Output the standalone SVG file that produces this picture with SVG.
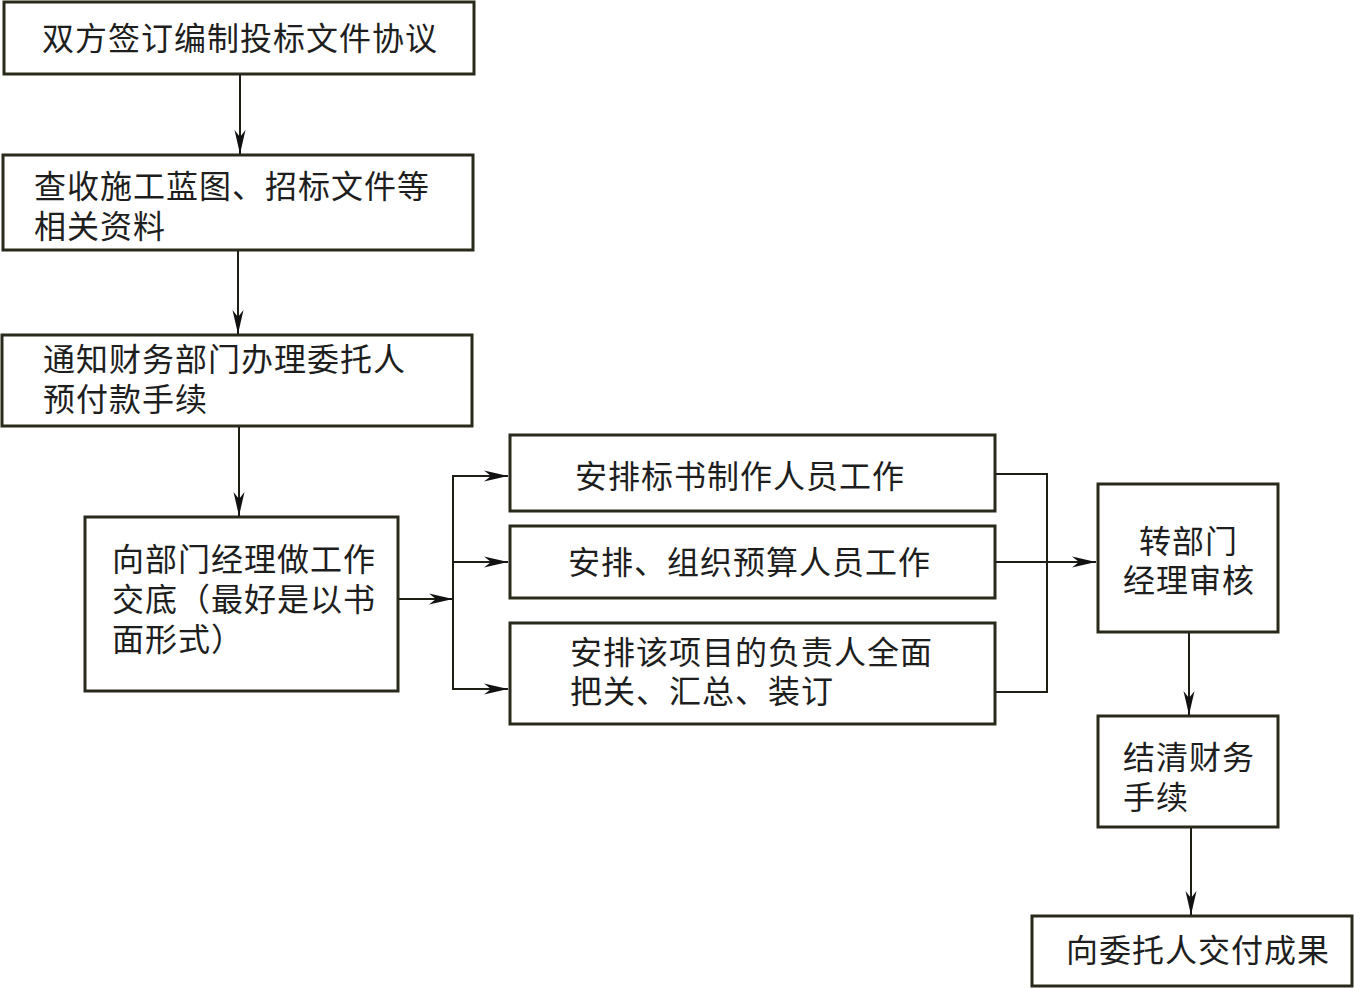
<svg xmlns="http://www.w3.org/2000/svg" width="1354" height="988" viewBox="0 0 1354 988">
<style>
.box{fill:#fff;stroke:#2a2a1c;stroke-width:3}
.ln{fill:none;stroke:#1e1e14;stroke-width:2}
text{font-family:"Noto Sans CJK SC","Noto Sans",sans-serif;font-size:32px;fill:#1e1e1e;letter-spacing:1px}
</style>
<defs>
<marker id="ah" markerUnits="userSpaceOnUse" markerWidth="26" markerHeight="12" refX="24" refY="6" orient="auto">
<path d="M0,0.5 L24,6 L0,11.5 L7,6 z" fill="#111"/>
</marker>
</defs>
<rect width="1354" height="988" fill="#fff"/>
<g id="n1"><rect class="box" x="4" y="2" width="470" height="72"/><text x="42" y="50">双方签订编制投标文件协议</text></g>
<g id="n2"><rect class="box" x="3" y="155" width="470" height="95"/><text x="34" y="198">查收施工蓝图、招标文件等<tspan x="34" dy="40">相关资料</tspan></text></g>
<g id="n3"><rect class="box" x="2" y="335" width="470" height="91"/><text x="43" y="371">通知财务部门办理委托人<tspan x="43" dy="40">预付款手续</tspan></text></g>
<g id="n4"><rect class="box" x="85" y="517" width="313" height="174"/><text x="112" y="571">向部门经理做工作<tspan x="112" dy="40">交底（最好是以书</tspan><tspan x="112" dy="40">面形式）</tspan></text></g>
<g id="n5"><rect class="box" x="510" y="435" width="485" height="76"/><text x="575" y="488">安排标书制作人员工作</text></g>
<g id="n6"><rect class="box" x="510" y="526" width="485" height="72"/><text x="568" y="574">安排、组织预算人员工作</text></g>
<g id="n7"><rect class="box" x="510" y="623" width="485" height="101"/><text x="570" y="664">安排该项目的负责人全面<tspan x="570" dy="39">把关、汇总、装订</tspan></text></g>
<g id="n8"><rect class="box" x="1098" y="484" width="180" height="148"/><text x="1139" y="553">转部门<tspan x="1123" dy="39">经理审核</tspan></text></g>
<g id="n9"><rect class="box" x="1098" y="716" width="180" height="111"/><text x="1123" y="769">结清财务<tspan x="1123" dy="40">手续</tspan></text></g>
<g id="n10"><rect class="box" x="1032" y="916" width="320" height="70"/><text x="1066" y="962">向委托人交付成果</text></g>
<g id="connectors">
<line class="ln" x1="240" y1="75" x2="240" y2="154" marker-end="url(#ah)"/>
<line class="ln" x1="238" y1="251" x2="238" y2="334" marker-end="url(#ah)"/>
<line class="ln" x1="239" y1="427" x2="239" y2="516" marker-end="url(#ah)"/>
<line class="ln" x1="399" y1="599" x2="453" y2="599" marker-end="url(#ah)"/>
<polyline class="ln" points="508,476 453,476 453,689 508,689"/>
<line class="ln" x1="453" y1="476" x2="508" y2="476" marker-end="url(#ah)"/>
<line class="ln" x1="453" y1="562" x2="508" y2="562" marker-end="url(#ah)"/>
<line class="ln" x1="453" y1="689" x2="508" y2="689" marker-end="url(#ah)"/>
<polyline class="ln" points="996,474 1047,474 1047,692 996,692"/>
<line class="ln" x1="996" y1="562" x2="1096" y2="562" marker-end="url(#ah)"/>
<line class="ln" x1="1189" y1="633" x2="1189" y2="715" marker-end="url(#ah)"/>
<line class="ln" x1="1191" y1="828" x2="1191" y2="915" marker-end="url(#ah)"/>
</g>
</svg>
